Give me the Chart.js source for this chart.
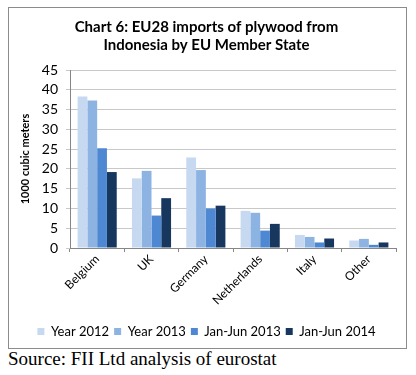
<!DOCTYPE html>
<html>
<head>
<meta charset="utf-8">
<script src="https://cdn.jsdelivr.net/npm/chart.js@4"></script>
<style>
  body { margin: 0; background: #fff; width: 416px; height: 375px; position: relative; }
  .box { position: absolute; left: 8px; top: 7px; width: 397px; height: 340px; border: 1px solid #8c8c8c; }
  canvas { display: block; }
  .source { position: absolute; left: 8px; top: 348px; font-family: "Liberation Serif", serif; font-size: 19px; color: #000; }
</style>
</head>
<body>
<div class="box"><canvas id="chart" width="397" height="340"></canvas></div>
<div class="source">Source: FII Ltd analysis of eurostat</div>
<script>
// data (1000 cubic meters)
const countries = ["Belgium", "UK", "Germany", "Netherlands", "Italy", "Other"]
const year2012 = [38.3, 17.6, 22.9, 9.4, 3.3, 1.9]
const year2013 = [37.3, 19.5, 19.7, 8.9, 2.8, 2.3]
const h1_2013 = [25.2, 8.2, 10.0, 4.4, 1.4, 0.8]
const h1_2014 = [19.2, 12.6, 10.7, 6.1, 2.4, 1.4]

const font = "Lato"

const ctx = document.querySelector("#chart").getContext("2d")

new Chart(ctx, {
    type: "bar",
    data: {
        labels: countries,
        datasets: [
            { label: "Year 2012", data: year2012, backgroundColor: "#c6d9f1" },
            { label: "Year 2013", data: year2013, backgroundColor: "#8db3e2" },
            { label: "Jan-Jun 2013", data: h1_2013, backgroundColor: "#4f88d2" },
            { label: "Jan-Jun 2014", data: h1_2014, backgroundColor: "#17375e" }
        ]
    },
    options: {
        responsive: false,
        animation: false,
        layout: { padding: { left: 8, right: 10, top: 4, bottom: 0 } },
        datasets: { bar: { categoryPercentage: 0.72, barPercentage: 1 } },
        plugins: {
            title: {
                display: true,
                text: ["Chart 6: EU28 imports of plywood from", "Indonesia by EU Member State"],
                color: "#000",
                font: { family: font, size: 15, weight: "bold" },
                lineHeight: 1.4,
                padding: { top: 6, bottom: 16 }
            },
            legend: {
                position: "bottom",
                labels: {
                    color: "#000",
                    font: { family: font, size: 13 },
                    boxWidth: 7,
                    boxHeight: 7,
                    padding: 5
                }
            },
            tooltip: { enabled: false }
        },
        scales: {
            x: {
                grid: { display: true, drawOnChartArea: false, offset: true, tickLength: 4, color: "#868686" },
                border: { color: "#868686" },
                ticks: { color: "#000", font: { family: font, size: 12 }, maxRotation: 45, minRotation: 45, padding: 0 },
                afterFit: (scale) => { scale.height = 72 }
            },
            y: {
                min: 0,
                max: 45,
                ticks: { stepSize: 5, autoSkip: false, color: "#000", font: { family: font, size: 14 }, padding: 8 },
                grid: { color: "#c8c8c8", tickLength: 4 },
                border: { color: "#868686" },
                title: {
                    display: true,
                    text: "1000 cubic meters",
                    color: "#000",
                    font: { family: font, size: 11, weight: "bold" },
                    padding: 2
                },
                afterFit: (scale) => { scale.width = 53 }
            }
        }
    }
})
</script>
</body>
</html>
